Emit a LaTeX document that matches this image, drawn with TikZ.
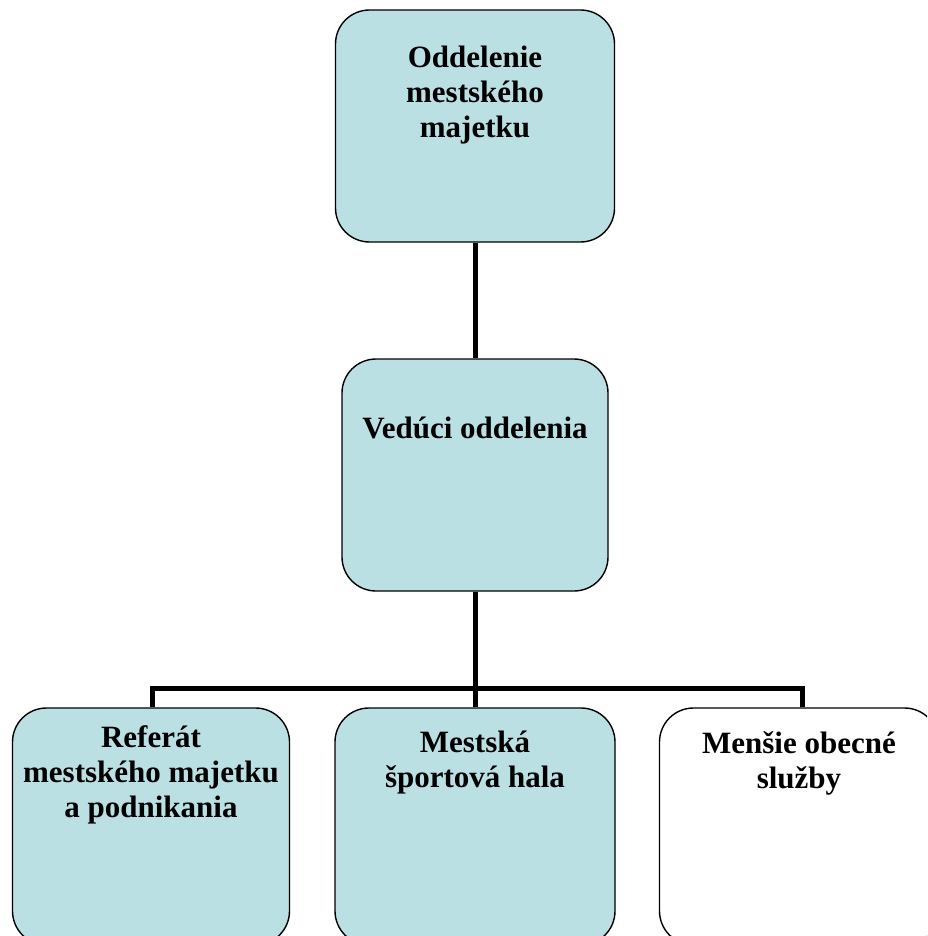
\documentclass[tikz,border=0pt]{standalone}
\usepackage{fontspec}
\setmainfont{Liberation Serif}
\definecolor{boxfill}{RGB}{187,224,227}
\begin{document}
\begin{tikzpicture}[x=1pt,y=-1pt,
  orgbox/.style={draw=black, line width=1.4pt, rounded corners=34pt, inner sep=0pt},
  orgtext/.style={anchor=base, align=center, inner sep=0pt,
    font=\bfseries\fontsize{31}{35}\selectfont},
  link/.style={line width=5pt}]
\useasboundingbox (0,0) rectangle (927,936);
\clip (0,0) rectangle (927,936);

% boxes
\node[orgbox, fill=boxfill, minimum width=279pt, minimum height=232pt] (top) at (475,126) {};
\node[orgbox, fill=boxfill, minimum width=266pt, minimum height=232pt] (mid) at (475,475) {};
\node[orgbox, fill=boxfill, minimum width=277pt, minimum height=237pt] (bl) at (151,826.5) {};
\node[orgbox, fill=boxfill, minimum width=280pt, minimum height=237pt] (bm) at (475,826.5) {};
\node[orgbox, fill=white, minimum width=279pt, minimum height=237pt] (br) at (799,826.5) {};

% labels (anchored at the baseline of the last line)
\node[orgtext] (ttop) at (475,138) {Oddelenie\\mestského\\majetku};
\node[orgtext] (tmid) at (475,438) {Vedúci oddelenia};
\node[orgtext] (tbl) at (151,817) {Referát\\mestského majetku\\a podnikania};
\node[orgtext] (tbm) at (475,787) {Mestská\\športová hala};
\node[orgtext] (tbr) at (799,788) {Menšie obecné\\služby};

% connectors
\coordinate (busl) at (152,688);
\coordinate (busr) at (802,688);
\draw[link] (top.south) -- (mid.north);
\draw[link] (mid.south) -- (bm.north);
\draw[link] (bl.north -| busl) -- (busl) -- (busr) -- (br.north -| busr);
\end{tikzpicture}
\end{document}
